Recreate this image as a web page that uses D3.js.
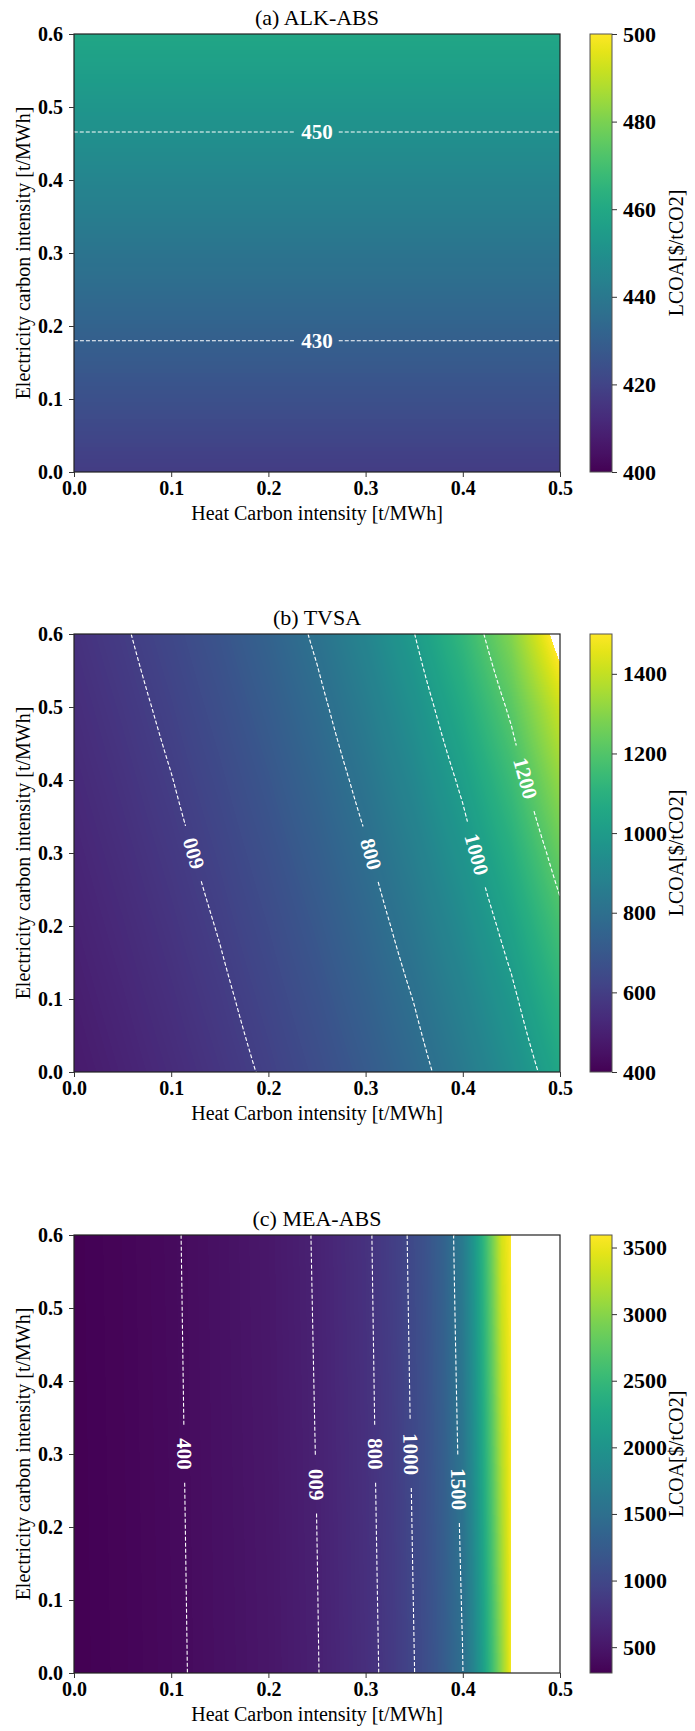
<!DOCTYPE html>
<html><head><meta charset="utf-8">
<script src="https://cdn.jsdelivr.net/npm/d3@7"></script>
<style>
body{margin:0;background:#fff;}
svg{display:block;}
text{font-family:"Liberation Serif","Times New Roman",serif;}
</style></head><body>
<svg id="chart" width="695" height="1731"></svg>
<script>
// ================= DATA =================
const xTicks = [0, 0.1, 0.2, 0.3, 0.4, 0.5];
const yTicks = [0, 0.1, 0.2, 0.3, 0.4, 0.5, 0.6];
const xLabel = "Heat Carbon intensity [t/MWh]";
const yLabel = "Electricity carbon intensity [t/MWh]";
const cbarLabel = "LCOA[$/tCO2]";

// (a) ALK-ABS  (rows: electricity intensity, columns: heat intensity)
const aTitle = "(a) ALK-ABS";
const aHeat = [0, 0.5];
const aElec = [0, 0.1, 0.2, 0.3, 0.4, 0.5, 0.6];
const aValues = [
  [417.5, 417.5], [424.5, 424.5], [431.4, 431.4], [438.4, 438.4],
  [445.4, 445.4], [452.4, 452.4], [459.3, 459.3]
];
const aLevels = [430, 450];
const aLabelAt = [[0.25, 0.18], [0.25, 0.467]];
const aLabelFlip = [0, 0];
const aCbar = [400, 500];
const aCbarTicks = [400, 420, 440, 460, 480, 500];

// (b) TVSA
const bTitle = "(b) TVSA";
const bHeat = [0, 0.05, 0.1, 0.15, 0.2, 0.25, 0.3, 0.35, 0.4, 0.45, 0.5];
const bElec = [0, 0.1, 0.2, 0.3, 0.4, 0.5, 0.6];
const bValues = [
  [477.0, 504.6, 535.5, 570.4, 610.3, 656.1, 709.4, 772.1, 847.0, 937.9, 1050.7],
  [488.4, 517.3, 549.9, 586.8, 629.1, 677.9, 734.9, 802.4, 883.6, 983.0, 1107.7],
  [500.4, 530.8, 565.1, 604.2, 649.1, 701.2, 762.4, 835.3, 923.6, 1032.7, 1171.2],
  [512.9, 545.0, 581.2, 622.6, 670.4, 726.1, 791.9, 870.9, 967.3, 1087.8, 1242.4],
  [526.2, 559.9, 598.2, 642.2, 693.2, 752.9, 823.9, 909.7, 1015.4, 1149.0, 1323.0],
  [540.1, 575.7, 616.3, 663.1, 717.5, 781.7, 858.5, 952.1, 1068.5, 1217.5, 1414.6],
  [554.8, 592.4, 635.5, 685.3, 743.6, 812.8, 896.2, 998.7, 1127.6, 1294.6, 1555.0]
];
const bLevels = [600, 800, 1000, 1200];
const bLabelAt = [[0.125, 0.30], [0.31, 0.30], [0.42, 0.30], [0.466, 0.403]];
const bLabelFlip = [1, 0, 0, 0];
const bCbar = [400, 1500];
const bCbarTicks = [400, 600, 800, 1000, 1200, 1400];

// (c) MEA-ABS
const cTitle = "(c) MEA-ABS";
const cHeat = [0, 0.05, 0.1, 0.15, 0.2, 0.25, 0.3, 0.33, 0.36, 0.38, 0.40, 0.41, 0.42, 0.43, 0.44, 0.45];
const cElec = [0, 0.6];
const cValues = [
  [306, 338, 380, 440, 496, 594, 741, 872, 1060, 1239, 1493, 1750, 2100, 2550, 3050, 3560],
  [310, 343.5, 388, 447, 509, 613, 769, 913, 1118, 1322, 1660, 1978, 2393, 2875, 3382, 3594]
];
const cLevels = [400, 600, 800, 1000, 1500];
const cLabelAt = [[0.115, 0.30], [0.25, 0.258], [0.31, 0.30], [0.349, 0.30], [0.397, 0.252]];
const cLabelFlip = [0, 1, 0, 0, 0];
const cCbar = [306, 3594];
const cCbarTicks = [500, 1000, 1500, 2000, 2500, 3000, 3500];

// ================= LAYOUT =================
const W = 486, H = 438, X0 = 74, CB_X = 590, CB_W = 22;
const panelTops = [34, 634, 1235];
const panels = [
  {title: aTitle, heat: aHeat, elec: aElec, values: aValues, levels: aLevels, labelAt: aLabelAt, flip: aLabelFlip, cbar: aCbar, cbarTicks: aCbarTicks, pad: 6},
  {title: bTitle, heat: bHeat, elec: bElec, values: bValues, levels: bLevels, labelAt: bLabelAt, flip: bLabelFlip, cbar: bCbar, cbarTicks: bCbarTicks, pad: 13},
  {title: cTitle, heat: cHeat, elec: cElec, values: cValues, levels: cLevels, labelAt: cLabelAt, flip: cLabelFlip, cbar: cCbar, cbarTicks: cCbarTicks, pad: 13}
];

const svg = d3.select("#chart");
const defs = svg.append("defs");

// viridis lookup
const LUT = d3.range(1024).map(i => d3.rgb(d3.interpolateViridis(i / 1023)));

function bilinear(hA, eA, V, h, e) {
  if (h < hA[0] || h > hA[hA.length - 1] || e < eA[0] || e > eA[eA.length - 1]) return NaN;
  let i = Math.max(0, Math.min(d3.bisectRight(hA, h) - 1, hA.length - 2));
  let j = Math.max(0, Math.min(d3.bisectRight(eA, e) - 1, eA.length - 2));
  const tx = (h - hA[i]) / (hA[i + 1] - hA[i]);
  const ty = (e - eA[j]) / (eA[j + 1] - eA[j]);
  const v0 = (1 - tx) * V[j][i] + tx * V[j][i + 1];
  const v1 = (1 - tx) * V[j + 1][i] + tx * V[j + 1][i + 1];
  return (1 - ty) * v0 + ty * v1;
}

function isolines(mp) {
  const out = [];
  const onB = p => p[0] <= 0 || p[0] >= W || p[1] <= 0 || p[1] >= H;
  mp.coordinates.forEach(poly => poly.forEach(ring => {
    let pts = ring.slice();
    if (pts.length > 1 && pts[0][0] === pts[pts.length - 1][0] && pts[0][1] === pts[pts.length - 1][1]) pts.pop();
    const n = pts.length;
    if (n < 2) return;
    const keep = d3.range(n).map(i => !(onB(pts[i]) && onB(pts[(i + 1) % n])));
    if (keep.every(Boolean)) { out.push(pts.concat([pts[0]])); return; }
    for (let i = 0; i < n; i++) {
      if (keep[i] && !keep[(i - 1 + n) % n]) {
        const line = [pts[i]];
        let j = i;
        while (keep[j % n] && j - i < n) { line.push(pts[(j + 1) % n]); j++; }
        out.push(line);
      }
    }
  }));
  return out;
}

function cumLen(line) {
  const c = [0];
  for (let i = 1; i < line.length; i++) c.push(c[i - 1] + Math.hypot(line[i][0] - line[i - 1][0], line[i][1] - line[i - 1][1]));
  return c;
}
function pointAt(line, c, s) {
  s = Math.max(0, Math.min(c[c.length - 1], s));
  let i = Math.max(1, d3.bisectLeft(c, s));
  if (i >= c.length) i = c.length - 1;
  const L = c[i] - c[i - 1];
  const t = L > 0 ? (s - c[i - 1]) / L : 0;
  return [line[i - 1][0] + t * (line[i][0] - line[i - 1][0]), line[i - 1][1] + t * (line[i][1] - line[i - 1][1])];
}
function slice(line, c, s1, s2) {
  const pts = [pointAt(line, c, s1)];
  for (let i = 0; i < line.length; i++) if (c[i] > s1 && c[i] < s2) pts.push(line[i]);
  pts.push(pointAt(line, c, s2));
  return pts;
}
function project(line, c, p) {
  let best = {d: Infinity, s: 0};
  for (let i = 0; i < line.length - 1; i++) {
    const a = line[i], b = line[i + 1];
    const dx = b[0] - a[0], dy = b[1] - a[1];
    const L2 = dx * dx + dy * dy;
    let t = L2 > 0 ? ((p[0] - a[0]) * dx + (p[1] - a[1]) * dy) / L2 : 0;
    t = Math.max(0, Math.min(1, t));
    const d = Math.hypot(a[0] + t * dx - p[0], a[1] + t * dy - p[1]);
    if (d < best.d) best = {d, s: c[i] + t * (c[i + 1] - c[i])};
  }
  return best;
}

const lineGen = d3.line();

panels.forEach((p, k) => {
  const top = panelTops[k];
  const x = d3.scaleLinear().domain([0, 0.5]).range([X0, X0 + W]);
  const y = d3.scaleLinear().domain([0, 0.6]).range([top + H, top]);
  const cnorm = d3.scaleLinear().domain(p.cbar).range([0, 1023]).clamp(true);
  const g = svg.append("g");

  // ---- raster field ----
  const canvas = document.createElement("canvas");
  canvas.width = W; canvas.height = H;
  const ctx = canvas.getContext("2d");
  const img = ctx.createImageData(W, H);
  const field = new Float64Array(W * H);
  for (let j = 0; j < H; j++) {
    const e = y.invert(top + j + 0.5);
    for (let i = 0; i < W; i++) {
      const h = x.invert(X0 + i + 0.5);
      const v = bilinear(p.heat, p.elec, p.values, h, e);
      const idx = j * W + i;
      field[idx] = isNaN(v) ? 1e6 : v;
      if (!isNaN(v) && v <= p.cbar[1]) {
        const c = LUT[Math.round(cnorm(v))];
        img.data[idx * 4] = c.r; img.data[idx * 4 + 1] = c.g; img.data[idx * 4 + 2] = c.b; img.data[idx * 4 + 3] = 255;
      } else {
        img.data[idx * 4 + 3] = 0;
      }
    }
  }
  ctx.putImageData(img, 0, 0);
  g.append("image").attr("x", X0).attr("y", top).attr("width", W).attr("height", H)
    .attr("preserveAspectRatio", "none").attr("href", canvas.toDataURL());

  // ---- contours ----
  const contours = d3.contours().size([W, H]).thresholds(p.levels)(Array.from(field));
  const cg = g.append("g");
  contours.forEach((mp, li) => {
    const lines = isolines(mp).map(l => l.map(([gx, gy]) => [X0 + gx, top + gy]));
    if (!lines.length) return;
    const label = String(p.levels[li]);
    const t = cg.append("text").text(label)
      .attr("fill", "#fff").attr("font-weight", "bold").attr("font-size", 21)
      .attr("text-anchor", "middle").attr("dominant-baseline", "central");
    const tw = t.node().getComputedTextLength();
    const target = [x(p.labelAt[li][0]), y(p.labelAt[li][1])];
    let bestLine = -1, best = {d: Infinity};
    const cls = lines.map(cumLen);
    lines.forEach((l, i) => { const r = project(l, cls[i], target); if (r.d < best.d) { best = r; bestLine = i; } });
    lines.forEach((l, i) => {
      const c = cls[i];
      let parts = [l];
      if (i === bestLine) {
        const gHalf = tw / 2 + p.pad;
        parts = [];
        if (best.s - gHalf > 0) parts.push(slice(l, c, 0, best.s - gHalf));
        if (best.s + gHalf < c[c.length - 1]) parts.push(slice(l, c, best.s + gHalf, c[c.length - 1]));
        const pa = pointAt(l, c, best.s - tw / 2), pb = pointAt(l, c, best.s + tw / 2);
        let ang = Math.atan2(pb[1] - pa[1], pb[0] - pa[0]) * 180 / Math.PI;
        if (ang > 90) ang -= 180;
        if (ang <= -90) ang += 180;
        if (p.flip[li]) ang += 180;
        const ctr = pointAt(l, c, best.s);
        t.attr("transform", `translate(${ctr[0]},${ctr[1]}) rotate(${ang})`);
      }
      parts.forEach(pt => cg.append("path").attr("d", lineGen(pt)).attr("fill", "none")
        .attr("stroke", "#fff").attr("stroke-width", 1.1).attr("stroke-dasharray", "4,2"));
    });
    t.raise();
  });

  // ---- frame & axes ----
  g.append("rect").attr("x", X0).attr("y", top).attr("width", W).attr("height", H)
    .attr("fill", "none").attr("stroke", "#222").attr("stroke-width", 1.2);

  const ya = g.append("g").attr("transform", `translate(${X0},0)`)
    .call(d3.axisLeft(y).tickValues(yTicks).tickFormat(d3.format(".1f")).tickSize(5).tickPadding(6));
  const xa = g.append("g").attr("transform", `translate(0,${top + H})`)
    .call(d3.axisBottom(x).tickValues(xTicks).tickFormat(d3.format(".1f")).tickSize(5).tickPadding(4));
  [ya, xa].forEach(a => {
    a.select(".domain").remove();
    a.selectAll(".tick line").attr("stroke", "#333").attr("stroke-width", 1);
    a.selectAll(".tick text").attr("font-size", 20).attr("font-weight", "bold").attr("fill", "#000")
      .attr("font-family", "'Liberation Serif','Times New Roman',serif");
  });

  // titles and labels
  g.append("text").attr("x", X0 + W / 2).attr("y", top - 9).attr("text-anchor", "middle")
    .attr("font-size", 22).text(p.title);
  g.append("text").attr("x", X0 + W / 2).attr("y", top + H + 48).attr("text-anchor", "middle")
    .attr("font-size", 20).text(xLabel);
  g.append("text").attr("transform", `translate(29.5,${top + H / 2}) rotate(-90)`).attr("text-anchor", "middle")
    .attr("font-size", 20).text(yLabel);

  // ---- colorbar ----
  const gid = "grad" + k;
  const grad = defs.append("linearGradient").attr("id", gid).attr("x1", 0).attr("y1", 1).attr("x2", 0).attr("y2", 0);
  d3.range(0, 1.0001, 0.04).forEach(s => grad.append("stop").attr("offset", s).attr("stop-color", d3.interpolateViridis(s)));
  g.append("rect").attr("x", CB_X).attr("y", top).attr("width", CB_W).attr("height", H)
    .attr("fill", `url(#${gid})`).attr("stroke", "#555").attr("stroke-width", 1);
  const cy = d3.scaleLinear().domain(p.cbar).range([top + H, top]);
  const ca = g.append("g").attr("transform", `translate(${CB_X + CB_W},0)`)
    .call(d3.axisRight(cy).tickValues(p.cbarTicks).tickFormat(d3.format("d")).tickSize(5).tickPadding(6));
  ca.select(".domain").remove();
  ca.selectAll(".tick line").attr("stroke", "#333");
  ca.selectAll(".tick text").attr("font-size", 22).attr("font-weight", "bold").attr("fill", "#000")
    .attr("font-family", "'Liberation Serif','Times New Roman',serif");
  g.append("text").attr("transform", `translate(683,${top + H / 2}) rotate(-90)`).attr("text-anchor", "middle")
    .attr("font-size", 20).text(cbarLabel);
});
</script>
</body></html>
